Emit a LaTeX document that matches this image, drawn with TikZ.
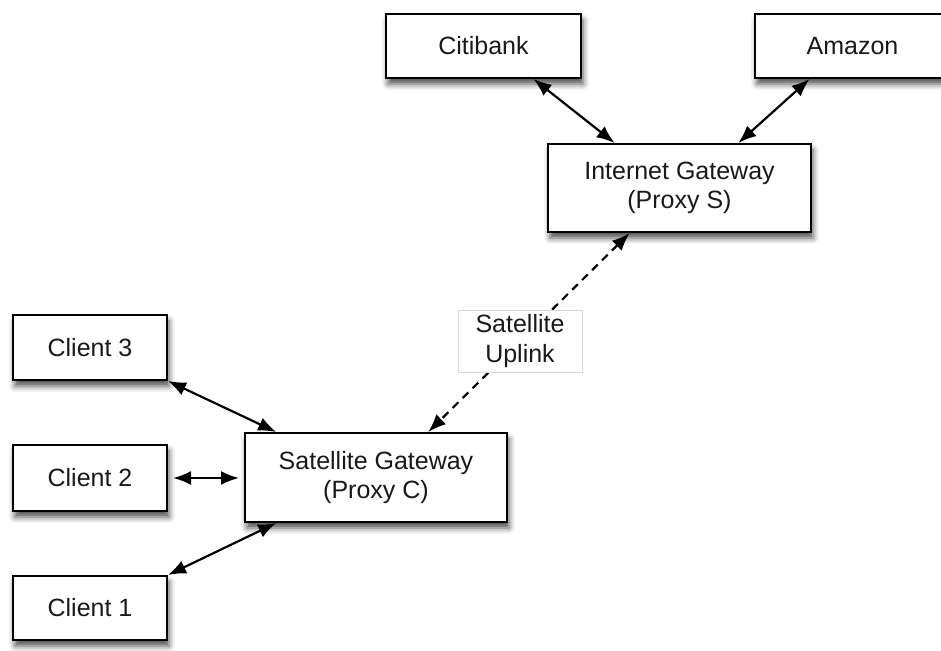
\documentclass[tikz,border=0pt]{standalone}
\usepackage{fontspec}
\setmainfont{Liberation Sans}
\usetikzlibrary{arrows.meta,calc,shadows.blur}
\begin{document}
\begin{tikzpicture}[x=1pt,y=1pt,
  box/.style={draw=black, line width=2pt, fill=white, rectangle, inner sep=0pt,
    text=black!90, font=\fontsize{25}{29}\selectfont, align=center,
    blur shadow={shadow xshift=2pt, shadow yshift=-6pt, shadow blur radius=6pt, shadow opacity=70}},
  tag/.style={draw=black!15, line width=0.8pt, fill=white, rectangle, inner sep=0pt,
    text=black!90, font=\fontsize{25}{30}\selectfont, align=center,
    minimum width=124pt, minimum height=62pt},
  link/.style={line width=2.2pt, {Latex[length=18pt,width=14pt]}-{Latex[length=18pt,width=14pt]}},
  uplink/.style={link, dash pattern=on 8pt off 6pt}
]
\useasboundingbox (0,0) rectangle (941,650);
\clip (0,0) rectangle (941,650);

\node[box, minimum width=195pt, minimum height=64pt] (citi) at (483.5,604) {Citibank};
\node[box, minimum width=195pt, minimum height=64pt] (amazon) at (852.5,604) {Amazon};
\node[box, minimum width=263pt, minimum height=88pt] (ig) at (679.5,462) {Internet Gateway\\(Proxy S)};
\node[box, minimum width=262pt, minimum height=89pt] (sg) at (376,172.5) {Satellite Gateway\\(Proxy C)};
\node[box, minimum width=154pt, minimum height=65pt] (c3) at (90,302.5) {Client 3};
\node[box, minimum width=154pt, minimum height=66pt] (c2) at (90,172) {Client 2};
\node[box, minimum width=154pt, minimum height=64pt] (c1) at (90,42) {Client 1};

\draw[link] ($(citi.south west)!0.754!(citi.south east)$) -- ($(ig.north west)!0.255!(ig.north east)$);
\draw[link] ($(amazon.south west)!0.282!(amazon.south east)$) -- ($(ig.north west)!0.722!(ig.north east)$);
\draw[uplink] ($(ig.south west)!0.312!(ig.south east)$) -- ($(sg.north west)!0.698!(sg.north east)$);
\draw[link] (c3.south east) -- ($(sg.north west)!0.122!(sg.north east)$);
\draw[link, shorten <=5pt, shorten >=5pt] (c2.east) -- (c2.east -| sg.west);
\draw[link] (c1.north east) -- ($(sg.south west)!0.122!(sg.south east)$);

\node[tag] (lbl) at (520,309) {Satellite\\Uplink};
\end{tikzpicture}
\end{document}
